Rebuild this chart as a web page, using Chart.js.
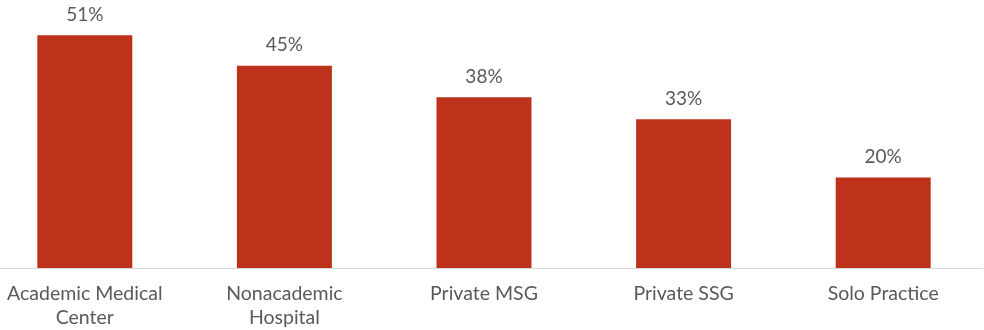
<!DOCTYPE html>
<html>
<head>
<meta charset="utf-8">
<script src="https://cdn.jsdelivr.net/npm/chart.js@4"></script>
<style>
  html, body { margin: 0; padding: 0; background: #ffffff; overflow: hidden; width: 984px; height: 330px; }
  #wrap { position: absolute; left: -15px; top: 0; width: 998px; height: 344px; }
</style>
</head>
<body>
<div id="wrap"><canvas id="c"></canvas></div>
<script>
const categories = [["Academic Medical", "Center"], ["Nonacademic", "Hospital"], "Private MSG", "Private SSG", "Solo Practice"];
const values = [51.7, 44.9, 37.9, 33.0, 20.1];
const valueLabels = ["51%", "45%", "38%", "33%", "20%"];

const labelPlugin = {
  id: 'valueLabels',
  afterDatasetsDraw(chart) {
    const ctx = chart.ctx;
    const meta = chart.getDatasetMeta(0);
    ctx.save();
    ctx.font = '19px Lato';
    ctx.fillStyle = '#595959';
    ctx.textAlign = 'center';
    ctx.textBaseline = 'bottom';
    meta.data.forEach((bar, i) => {
      ctx.fillText(valueLabels[i], bar.x, bar.y - 11);
    });
    ctx.restore();
  }
};

new Chart(document.getElementById('c'), {
  type: 'bar',
  data: {
    labels: categories,
    datasets: [{
      data: values,
      backgroundColor: '#BE311A',
      borderWidth: 0,
      barPercentage: 0.476,
      categoryPercentage: 1
    }]
  },
  options: {
    responsive: true,
    maintainAspectRatio: false,
    animation: false,
    layout: { padding: { top: 0, bottom: 0, left: 0, right: 0 } },
    plugins: { legend: { display: false }, tooltip: { enabled: false } },
    scales: {
      y: { display: false, min: 0, max: 59.5 },
      x: {
        grid: { display: false, drawTicks: false },
        border: { display: true, color: '#d9d9d9', width: 1 },
        ticks: {
          color: '#595959',
          font: { family: 'Lato', size: 19.5, lineHeight: 1.23 },
          padding: 14,
          maxRotation: 0,
          autoSkip: false
        }
      }
    }
  },
  plugins: [labelPlugin]
});
</script>
</body>
</html>
